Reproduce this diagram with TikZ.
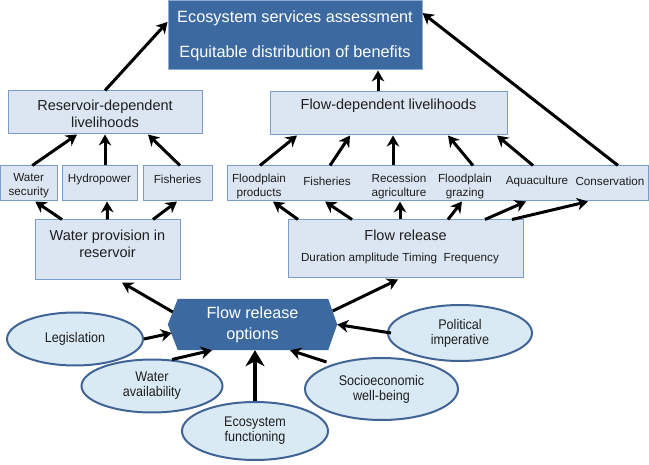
\documentclass[tikz,border=0pt]{standalone}
\usepackage{fontspec}
\setmainfont{Liberation Sans}
\newfontfamily\narrowsans[FakeStretch=0.9]{Liberation Sans}
\usetikzlibrary{arrows.meta,shapes.geometric,backgrounds}
\definecolor{darkfill}{RGB}{60,106,160}
\definecolor{darkline}{RGB}{140,172,214}
\definecolor{boxfill}{RGB}{220,230,242}
\definecolor{boxline}{RGB}{122,156,202}
\definecolor{elfill}{RGB}{218,234,244}
\definecolor{elline}{RGB}{64,100,150}
\definecolor{ink}{RGB}{30,30,30}
\tikzset{
  box/.style={rectangle, draw=boxline, fill=boxfill, line width=1pt, inner sep=0pt},
  ell/.style={ellipse, draw=elline, fill=elfill, line width=2pt, inner sep=0pt, align=center, text=ink, font=\narrowsans\fontsize{14}{15}\selectfont},
  txt/.style={inner sep=0pt, align=center, text=ink},
  small/.style={txt, font=\fontsize{11.7}{14}\selectfont},
  mid/.style={txt, font=\fontsize{14.5}{17}\selectfont},
  arr/.style={line width=3pt, -{Stealth[length=11pt,width=12.5pt,inset=3.5pt]}},
  bigarr/.style={line width=4pt, -{Stealth[length=16pt,width=19pt,inset=5pt]}},
}
\begin{document}
\begin{tikzpicture}[x=1pt,y=-1pt]
\useasboundingbox (0,0) rectangle (649,465);

% top box
\node[rectangle, draw=darkline, fill=darkfill, line width=1pt, minimum width=254pt, minimum height=69pt, inner sep=0pt, align=center, text=white, font=\fontsize{16.3}{35}\selectfont] (top) at (295,35.5) {Ecosystem services assessment\\Equitable distribution of benefits};

% livelihood boxes
\node[box, minimum width=194pt, minimum height=43pt] (resbox) at (105,112.5) {};
\node[mid] (reslab) at (105,113.5) {Reservoir-dependent\\livelihoods};
\node[box, minimum width=237pt, minimum height=43pt] (flowbox) at (388.5,113.5) {};
\node[mid] (flowlab) at (388.5,106) {Flow-dependent livelihoods};

% small boxes left
\node[box, minimum width=56.5pt, minimum height=35pt] (ws) at (28.75,183.5) {};
\node[small] (wslab) at (28.75,186) {Water\\security};
\node[box, minimum width=75pt, minimum height=35pt] (hydro) at (99.5,183.5) {};
\node[small] (hydrolab) at (99.5,179.5) {Hydropower};
\node[box, minimum width=69pt, minimum height=35pt] (fish) at (177.5,183.5) {};
\node[small] (fishlab) at (177.5,179.5) {Fisheries};

% big right box
\node[box, minimum width=421pt, minimum height=35pt] (big) at (437.5,183.5) {};
\node[small] (fpp) at (259,186) {Floodplain\\products};
\node[small] (rfish) at (327,181) {Fisheries};
\node[small] (rec) at (399,186) {Recession\\agriculture};
\node[small] (fpg) at (465,186) {Floodplain\\grazing};
\node[small] (aqua) at (537,181) {Aquaculture};
\node[small] (cons) at (610,181) {Conservation};

% water provision and flow release
\node[box, minimum width=145pt, minimum height=60pt] (wp) at (107.5,250) {};
\node[mid] (wplab) at (107.5,243.5) {Water provision in\\reservoir};
\node[box, minimum width=235pt, minimum height=58pt] (fr) at (405.5,249) {};
\node[mid] (frlab) at (405.5,235.5) {Flow release};
\node[small] (frsub) at (400,258) {Duration amplitude Timing\ \ Frequency};

% hexagon
\node[inner sep=0pt, minimum width=169pt, minimum height=51pt, align=center, text=white, font=\fontsize{16.2}{21}\selectfont] (hex) at (252.5,324.5) {Flow release\\options};
\begin{scope}[on background layer]
\fill[darkfill] ([xshift=10pt]hex.north west) -- ([xshift=-9pt]hex.north east) -- (hex.east) -- ([xshift=-9pt]hex.south east) -- ([xshift=10pt]hex.south west) -- (hex.west) -- cycle;
\end{scope}

% ellipses
\node[ell, minimum width=136pt, minimum height=53pt] (leg) at (75,339) {Legislation};
\node[ell, minimum width=141pt, minimum height=53pt] (wa) at (152,386) {Water\\availability};
\node[ell, minimum width=146pt, minimum height=58pt] (ef) at (255,431) {Ecosystem\\functioning};
\node[ell, minimum width=144pt, minimum height=56pt] (pi) at (460,333) {Political\\imperative};
\node[ell, minimum width=153pt, minimum height=62pt] (se) at (381.5,389) {Socioeconomic\\well-being};

% arrows to top
\draw[arr] (resbox.north) -- ([yshift=13.5pt]top.west);
\draw[arr] ([xshift=-10.5pt]flowbox.north) -- ([xshift=83pt]top.south);
\draw[arr] ([xshift=180.5pt]big.north) -- ([yshift=22.5pt]top.east);

% left column
\draw[arr] ([xshift=3.5pt]ws.north) -- ([xshift=-28pt]resbox.south);
\draw[arr] ([xshift=5.5pt]hydro.north) -- (resbox.south);
\draw[arr] ([xshift=2.5pt]fish.north) -- ([xshift=43pt]resbox.south);
\draw[arr] ([xshift=-45.5pt]wp.north) -- ([xshift=6.5pt]ws.south);
\draw[arr] (wp.north) -- ([xshift=7.5pt]hydro.south);
\draw[arr] ([xshift=45.5pt]wp.north) -- ([xshift=-0.5pt]fish.south);

% right column
\draw[arr] ([xshift=-177.5pt]big.north) -- ([xshift=-91.5pt]flowbox.south);
\draw[arr] ([xshift=-107.5pt]big.north) -- ([xshift=-38.5pt]flowbox.south);
\draw[arr] ([xshift=-44.5pt]big.north) -- ([xshift=4.5pt]flowbox.south);
\draw[arr] ([xshift=35.5pt]big.north) -- ([xshift=59.5pt]flowbox.south);
\draw[arr] ([xshift=95.5pt]big.north) -- ([xshift=108.5pt]flowbox.south);
\draw[arr] ([xshift=-107.5pt]fr.north) -- ([xshift=-164.5pt]big.south);
\draw[arr] ([xshift=-53.5pt]fr.north) -- ([xshift=-112.5pt]big.south);
\draw[arr] ([xshift=-5.5pt]fr.north) -- ([xshift=-37.5pt]big.south);
\draw[arr] ([xshift=42.5pt]fr.north) -- ([xshift=24.5pt]big.south);
\draw[arr] ([xshift=79.5pt]fr.north) -- ([xshift=88.5pt]big.south);
\draw[arr] ([xshift=106.5pt]fr.north) -- ([xshift=150.5pt]big.south);

% from hexagon
\draw[arr] ([xshift=5pt,yshift=12.5pt]hex.west) -- ([xshift=14.5pt,yshift=-2pt]wp.south);
\draw[arr] ([xshift=-4.5pt,yshift=13.5pt]hex.east) -- ([xshift=-7.5pt,yshift=-1pt]fr.south);

% into hexagon
\draw[arr] (leg.east) -- ([xshift=4pt,yshift=-8.5pt]hex.west);
\draw[arr] ([xshift=20pt,yshift=-1pt]wa.north) -- ([xshift=-40.5pt]hex.south);
\draw[bigarr] (ef.north) -- ([xshift=2.5pt]hex.south);
\draw[arr] ([xshift=-55pt,yshift=27pt]se.center) -- ([xshift=37.5pt]hex.south);
\draw[arr] ([xshift=4pt]pi.west) -- (hex.east);
\end{tikzpicture}
\end{document}
